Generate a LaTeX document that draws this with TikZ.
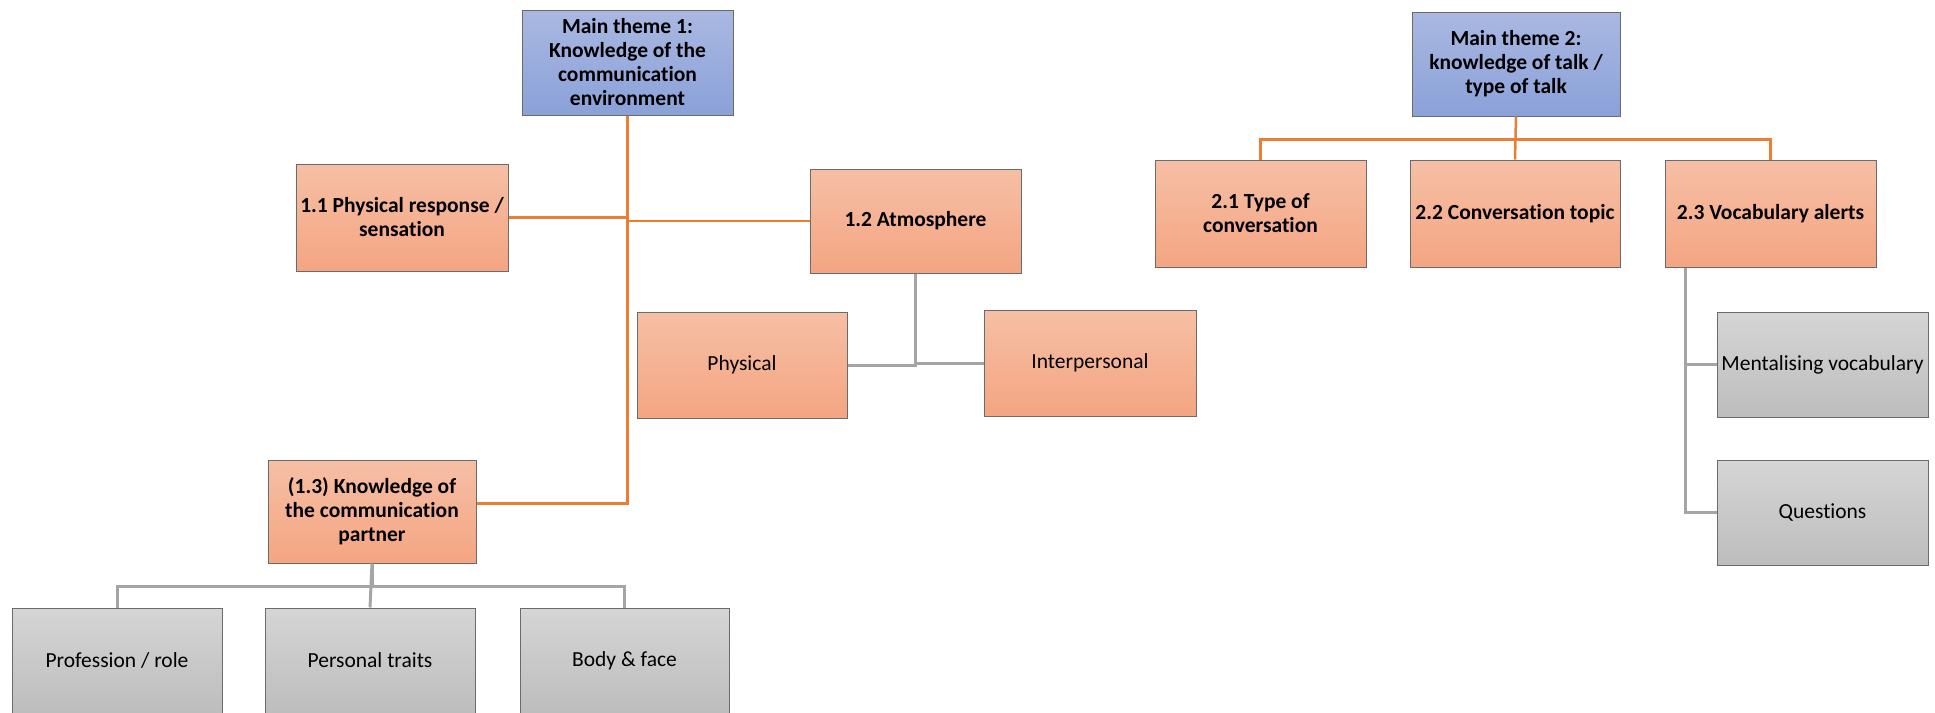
\documentclass[tikz,border=0pt]{standalone}
\usepackage{fontspec}
\setmainfont{Carlito}[RawFeature={-liga;-dlig;-clig}]
\definecolor{blueT}{HTML}{AAB8E1}
\definecolor{blueB}{HTML}{8AA1D9}
\definecolor{orT}{HTML}{F6BFA5}
\definecolor{orB}{HTML}{F4A582}
\definecolor{grT}{HTML}{D5D5D5}
\definecolor{grB}{HTML}{BDBDBD}
\definecolor{orLine}{HTML}{ED7D31}
\definecolor{grLine}{HTML}{A5A5A5}
\definecolor{boxBorder}{HTML}{6B6B6B}
\tikzset{
  box/.style={draw=boxBorder, line width=1pt, minimum width=211pt, minimum height=106pt,
    inner sep=0pt, align=center, font=\fontsize{21.5}{24}\selectfont},
  bluebox/.style={box, top color=blueT, bottom color=blueB, font=\fontsize{21.5}{24}\selectfont\bfseries},
  orbox/.style={box, top color=orT, bottom color=orB, font=\fontsize{21.5}{24}\selectfont\bfseries},
  orplain/.style={box, top color=orT, bottom color=orB},
  grbox/.style={box, top color=grT, bottom color=grB},
  orconn/.style={draw=orLine, line width=2.5pt},
  grconn/.style={draw=grLine, line width=3pt},
}
\begin{document}
\begin{tikzpicture}[x=1pt, y=-1pt]
\useasboundingbox (0,0) rectangle (1935,712);
% theme 1
\node[bluebox, minimum height=105pt] (main1) at (627.5,62.5) {Main theme 1:\\Knowledge of the\\communication\\environment};
\node[orbox, minimum width=212pt, minimum height=107pt] (p11) at (402,217.5) {1.1 Physical response /\\sensation};
\node[orbox, minimum height=104pt] (p12) at (915.5,221) {1.2 Atmosphere};
\node[orplain, minimum width=210pt] (phys) at (742,365) {Physical};
\node[orplain, minimum width=212pt] (inter) at (1090,363) {Interpersonal};
\node[orbox, minimum width=208pt, minimum height=103pt] (p13) at (372,511.5) {(1.3) Knowledge of\\the communication\\partner};
\node[grbox, minimum width=210pt, minimum height=105pt] (prof) at (117,660.5) {Profession / role};
\node[grbox, minimum width=210pt, minimum height=105pt] (pers) at (370,660.5) {Personal traits};
\node[grbox, minimum width=209pt, minimum height=105pt] (body) at (624.5,660.5) {Body \& face};
% theme 2
\node[bluebox, minimum width=208pt, minimum height=104pt] (main2) at (1516,64) {Main theme 2:\\knowledge of talk /\\type of talk};
\node[orbox, minimum height=107pt] (p21) at (1260.5,213.5) {2.1 Type of\\conversation};
\node[orbox, minimum width=210pt, minimum height=107pt] (p22) at (1515,213.5) {2.2 Conversation topic};
\node[orbox, minimum height=107pt] (p23) at (1770.5,213.5) {2.3 Vocabulary alerts};
\node[grbox, minimum height=105pt] (ment) at (1822.5,364.5) {Mentalising vocabulary};
\node[grbox, minimum height=105pt] (ques) at (1822.5,512.5) {Questions};
% connectors theme 1
\draw[orconn] (main1.south) |- (p11.east);
\draw[orconn] (main1.south) |- (p12.west);
\draw[orconn] (main1.south) |- ([yshift=8pt]p13.east);
\draw[grconn] (p12.south) |- (phys.east);
\draw[grconn] (p12.south) |- (inter.west);
\draw[grconn] (p13.south) -- ++(0,23) -| (prof.north);
\draw[grconn] (p13.south) -- (pers.north);
\draw[grconn] (p13.south) -- ++(0,23) -| (body.north);
% connectors theme 2
\draw[orconn] (main2.south) -- ++(0,23) -| (p21.north);
\draw[orconn] (main2.south) -- (p22.north);
\draw[orconn] (main2.south) -- ++(0,23) -| (p23.north);
\draw[grconn] ([xshift=21pt]p23.south west) |- (ment.west);
\draw[grconn] ([xshift=21pt]p23.south west) |- (ques.west);
\end{tikzpicture}
\end{document}
